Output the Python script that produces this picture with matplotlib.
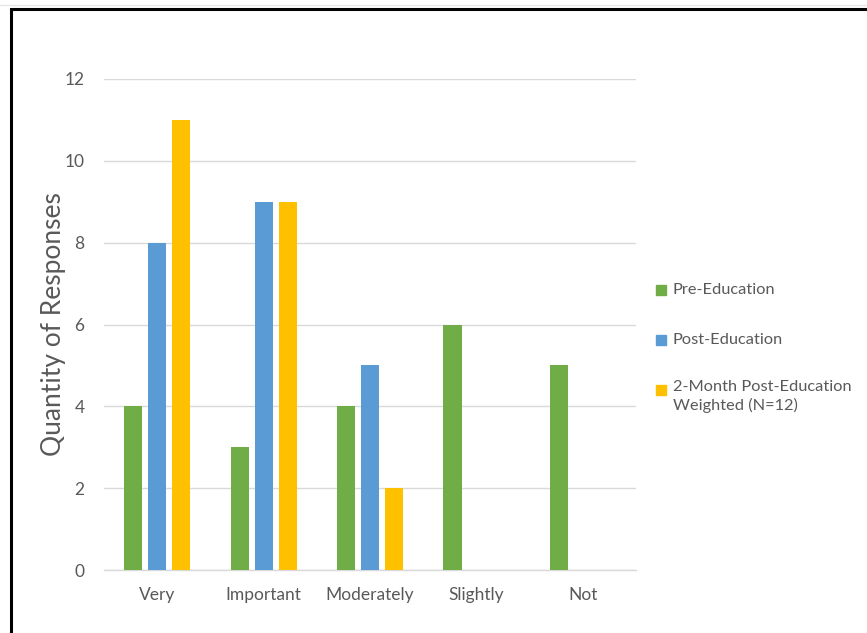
import numpy as np
import matplotlib
matplotlib.use('Agg')
import matplotlib.pyplot as plt
from matplotlib.patches import Rectangle

# Réponses par catégorie d'importance
categories = ['Very', 'Important', 'Moderately', 'Slightly', 'Not']
pre_education = [4, 3, 4, 6, 5]
post_education = [8, 9, 5, 0, 0]
two_month_post = [11, 9, 2, 0, 0]

series_labels = ['Pre-Education', 'Post-Education',
                 '2-Month Post-Education\nWeighted (N=12)']
series_colors = ['#70AD47', '#5B9BD5', '#FFC000']
y_ticks = [0, 2, 4, 6, 8, 10, 12]

plt.rcParams['font.family'] = ['Lato', 'DejaVu Sans']
text_color = '#595959'
grid_color = '#D9D9D9'

fig = plt.figure(figsize=(8.67, 6.33), dpi=100)
ax = fig.add_axes([0.12, 0.0995, 0.6136, 0.7757])

x = np.arange(len(categories))
largeur = 0.17
decalage = 0.225
for i, (valeurs, couleur) in enumerate(zip([pre_education, post_education, two_month_post],
                                            series_colors)):
    ax.bar(x + (i - 1) * decalage, valeurs, width=largeur, color=couleur, zorder=3)

ax.set_xlim(-0.5, len(categories) - 0.5)
ax.set_ylim(0, 12)
ax.set_yticks(y_ticks)
ax.set_xticks(x)
ax.set_xticklabels(categories)
ax.grid(axis='y', color=grid_color, linewidth=1, zorder=0)
ax.tick_params(axis='both', length=0, labelsize=12.5, colors=text_color)
ax.tick_params(axis='y', pad=14)
ax.tick_params(axis='x', pad=12)
for cote in ['top', 'right', 'left']:
    ax.spines[cote].set_visible(False)
ax.spines['bottom'].set_color(grid_color)
ax.spines['bottom'].set_linewidth(1)
ax.set_ylabel('Quantity of Responses', fontsize=19, color=text_color, labelpad=-1)

# Légende placée à droite du graphique (carré + texte)
W, H = 867, 633
positions_y = [290, 340, 390]
for label, couleur, py in zip(series_labels, series_colors, positions_y):
    fig.patches.append(Rectangle((656 / W, 1 - (py + 5) / H), 10 / W, 10 / H,
                                 transform=fig.transFigure, color=couleur,
                                 figure=fig))
    if '\n' in label:
        fig.text(673 / W, 1 - (py - 10) / H, label, fontsize=11.8, color=text_color,
                 va='top', linespacing=1.35)
    else:
        fig.text(673 / W, 1 - py / H, label, fontsize=11.8, color=text_color,
                 va='center')

# Cadre noir autour de la figure
fig.patches.append(Rectangle((11 / W, -0.1), 1.2, 1 - 9 / H + 0.1,
                             transform=fig.transFigure, fill=False,
                             edgecolor='black', linewidth=2.2, figure=fig))
fig.lines.append(plt.Line2D([0, 1], [1 - 5 / H, 1 - 5 / H], transform=fig.transFigure,
                            color='#E6E6E6', linewidth=1, figure=fig))

fig.savefig('out.png', dpi=100)
